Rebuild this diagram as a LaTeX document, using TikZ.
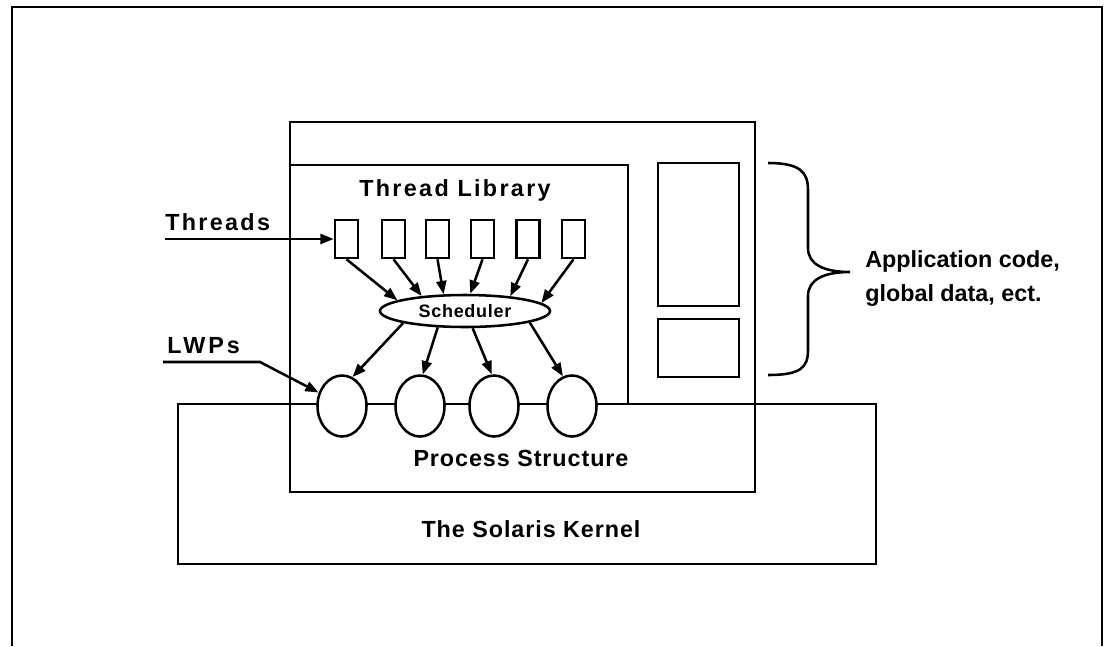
\documentclass[tikz,border=0pt]{standalone}
\usepackage{fontspec}
\setmainfont{Liberation Sans}
\usetikzlibrary{arrows.meta,shapes.geometric}
\begin{document}
\begin{tikzpicture}[x=0.75pt,y=-0.75pt,
  ln/.style={line width=1.9pt},
  arr/.style={ln,-{Triangle[length=10pt,width=7.5pt]}},
  lbl/.style={font=\fontsize{17.5}{25.5}\selectfont\bfseries\addfontfeatures{LetterSpace=#1}, inner sep=0},
  lbl/.default=0,
  thr/.style={draw,ln,minimum width=17.25pt,minimum height=28.5pt,inner sep=0},
  lwp/.style={draw,ln,ellipse,fill=white,minimum width=36.75pt,minimum height=45.75pt,inner sep=0},
  schedstyle/.style={draw,ln,ellipse,minimum width=127.5pt,minimum height=24pt,inner sep=0,font=\fontsize{13.5}{16}\selectfont\bfseries\addfontfeatures{LetterSpace=4}},
]
\useasboundingbox (0,0) rectangle (1105,646);
% outer frame (open at the bottom)
\draw[line width=1.1pt] (12,646) -- (12,7) -- (1102,7) -- (1102,646);
% kernel
\draw[ln] (178,404) rectangle (876,564);
% process structure
\draw[ln] (290,122) rectangle (755,492);
% thread library
\draw[ln] (290,165) -- (628,165) -- (628,404);
% application code boxes
\draw[ln] (658,163) rectangle (739,306);
\draw[ln] (658,319) rectangle (739,377);
% brace
\draw[ln] (768,163) .. controls (800,163) and (808,172) .. (808,190) -- (808,248)
  .. controls (808,265) and (825,272) .. (850,272)
  .. controls (825,272) and (808,279) .. (808,296) -- (808,350)
  .. controls (808,368) and (800,375) .. (768,375);

% threads
\node[thr] (t1) at (346.5,239) {};
\node[thr] (t2) at (393.5,239) {};
\node[thr] (t3) at (437.5,239) {};
\node[thr] (t4) at (482.5,239) {};
\node[thr] (t5) at (528,239) {};
\node[thr] (t6) at (573.5,239) {};

% scheduler
\node[schedstyle] (sched) at (465,311) {Scheduler};

% LWPs
\node[lwp] (l1) at (342,406) {};
\node[lwp] (l2) at (420,406) {};
\node[lwp] (l3) at (494,406) {};
\node[lwp] (l4) at (572,406) {};

% thread -> scheduler
\draw[arr] (t1.south) -- (sched.171);
\draw[arr] (t2.south) -- (sched.161);
\draw[arr] (t3.south) -- (sched.142);
\draw[arr] (t4.south) -- (sched.73);
\draw[arr] (t5.south) -- (sched.18);
\draw[arr] (t6.south) -- (sched.6);

% scheduler -> LWPs
\draw[arr] (sched.191) -- (l1.70);
\draw[arr] (sched.211) -- (l2.85);
\draw[arr] (sched.294) -- (l3.94);
\draw[arr] (sched.350) -- (l4.107);

% external pointers
\coordinate (thrsrc) at (165,239);
\draw[arr] (thrsrc) -- (t1.west);
\coordinate (lwpsrc) at (163,362);
\coordinate (lwpbend) at (260,362);
\draw[arr] (lwpsrc) -- (lwpbend) -- (l1.150);

% labels
\node[lbl=10,anchor=base west] (threadslbl) at (165,230) {Threads};
\node[lbl=13,anchor=base west] (lwpslbl) at (167,353) {LWPs};
\node[lbl=10,anchor=base] (tlib) at (455,196) {Thread Library};
\node[lbl=4,anchor=base] (pstruct) at (521,466) {Process Structure};
\node[lbl=4,anchor=base] (kernel) at (531,537) {The Solaris Kernel};
\node[lbl,anchor=north west,align=left] (app) at (865,250) {Application code,\\global data, ect.};
\end{tikzpicture}
\end{document}
